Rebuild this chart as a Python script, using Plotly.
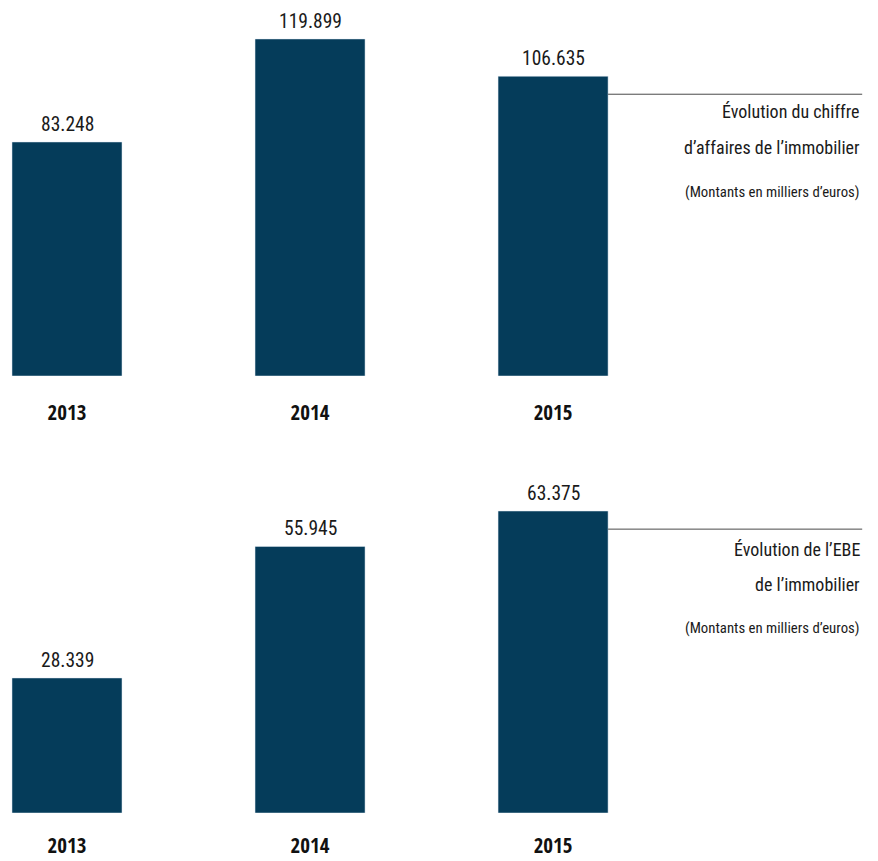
import plotly.graph_objects as go

years = ["2013", "2014", "2015"]
ca_values = [83.248, 119.899, 106.635]
ebe_values = [28.339, 55.945, 63.375]
ca_title = ["Évolution du chiffre", "d’affaires de l’immobilier"]
ebe_title = ["Évolution de l’EBE", "de l’immobilier"]
subtitle = "(Montants en milliers d’euros)"

BAR = "#053C5A"
FONT = "Roboto Condensed, Liberation Sans Narrow, sans-serif"
FONT_B = "Open Sans Condensed, Roboto Condensed, sans-serif"
W, H = 878, 861
xpos = list(range(len(years)))
bw = 0.4527
xr = [-0.2757, 3.337]

fig = go.Figure()
fig.add_trace(go.Bar(x=xpos, y=ca_values, width=bw, marker_color=BAR,
                     xaxis="x", yaxis="y", hoverinfo="skip"))
fig.add_trace(go.Bar(x=xpos, y=ebe_values, width=bw, marker_color=BAR,
                     xaxis="x2", yaxis="y2", hoverinfo="skip"))

def fmt(v):
    return f"{v:.3f}"

ann = []
shapes = []
for xa, ya, vals in (("x", "y", ca_values), ("x2", "y2", ebe_values)):
    for i, v in enumerate(vals):
        ann.append(dict(x=i, y=v, xref=xa, yref=ya, text=fmt(v), showarrow=False,
                        yanchor="bottom", yshift=4,
                        font=dict(family=FONT, size=19.5, color="#1a1a1a")))
    shapes.append(dict(type="line", xref=xa, yref=ya, x0=xpos[-1] + bw / 2, x1=3.272,
                       y0=vals[-1] * 0.94, y1=vals[-1] * 0.94,
                       line=dict(color="#4a4a4a", width=1)))

def side_text(lines, y_pix_list, sub_y):
    for t, yp in zip(lines, y_pix_list):
        ann.append(dict(x=862 / W, y=1 - yp / H, xref="paper", yref="paper", text=t,
                        showarrow=False, xanchor="right", yanchor="middle",
                        font=dict(family=FONT, size=18, color="#1a1a1a")))
    ann.append(dict(x=862 / W, y=1 - sub_y / H, xref="paper", yref="paper", text=subtitle,
                    showarrow=False, xanchor="right", yanchor="middle",
                    font=dict(family=FONT, size=14.8, color="#1a1a1a")))

side_text(ca_title, [111, 147], 192)
side_text(ebe_title, [549, 584], 628)

def xaxis_common(tl):
    return dict(range=xr, tickvals=xpos, ticktext=years,
                showgrid=False, zeroline=False, showline=False, automargin=False,
                ticks="outside", ticklen=tl, tickcolor="rgba(0,0,0,0)",
                tickfont=dict(family=FONT_B, size=21, color="#111111", weight="bold"),
                fixedrange=True)

fig.update_layout(
    width=W, height=H, margin=dict(l=0, r=0, t=0, b=0),
    paper_bgcolor="white", plot_bgcolor="white", showlegend=False,
    xaxis=dict(anchor="y", domain=[0, 1], **xaxis_common(18)),
    xaxis2=dict(anchor="y2", domain=[0, 1], **xaxis_common(14)),
    yaxis=dict(range=[0, 130], domain=[(H - 376) / H, (H - 376 + 130 * 2.811) / H],
               visible=False, fixedrange=True, automargin=False),
    yaxis2=dict(range=[0, 70], domain=[(H - 813) / H, (H - 813 + 70 * 4.765) / H],
                visible=False, fixedrange=True, automargin=False),
    annotations=ann, shapes=shapes,
)

fig.write_html("out.html")
